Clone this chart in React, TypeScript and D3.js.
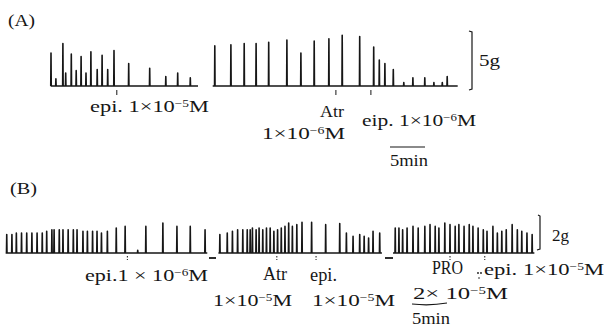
import React from 'react';
import * as d3 from 'd3';

// trace A (5 g scale): spike times in min, peak force in g
const aSeg1Time = [0, 0.7, 1.7, 2.1, 2.9, 3.6, 4.3, 5.0, 5.7, 6.6, 7.3, 8.1, 9.0, 11.1, 14.1, 16.4, 18.1, 19.9];
const aSeg1Force = [2.8, 0.6, 3.6, 1.1, 2.7, 1.3, 2.5, 1.1, 2.9, 1.4, 2.6, 1.4, 3.0, 1.9, 1.5, 0.8, 1.1, 0.7];
const aSeg2Time = [23.4, 25.7, 27.6, 29.3, 31.1, 33.7, 35.7, 37.6, 39.7, 41.6, 44.1, 46.1, 46.9, 47.7, 48.9, 50.4, 51.7, 53.4, 54.7, 55.9, 56.6];
const aSeg2Force = [3.4, 3.5, 3.6, 3.6, 3.7, 3.9, 2.8, 3.8, 4.0, 4.3, 4.2, 3.3, 2.2, 1.9, 1.4, 0.3, 0.7, 0.7, 0.3, 0.3, 0.8];
const aSegRanges = [[-0.05, 21.0], [23.1, 58.1]];
const aDrugTimes = [9.4, 40.7, 45.7];

// trace B (2 g scale)
const bSeg1Time = [0.1, 0.8, 1.4, 2.1, 2.8, 3.5, 4.2, 4.9, 5.5, 6.2, 6.5, 7.2, 7.7, 8.4, 9.1, 9.6, 10.4, 11.0, 11.7, 12.3, 12.9, 13.7, 14.9, 16.1, 17.8, 18.9, 21.2, 23.1, 24.9, 26.9];
const bSeg1Force = [1.05, 1.05, 1.14, 1.14, 1.14, 1.14, 1.14, 1.14, 1.24, 1.33, 1.33, 1.33, 1.33, 1.33, 1.33, 1.33, 1.24, 1.24, 1.24, 1.24, 1.14, 1.24, 1.43, 1.52, 0.15, 1.52, 1.71, 1.52, 1.52, 1.33];
const bSeg2Time = [28.9, 29.9, 30.6, 31.3, 32.0, 32.6, 33.0, 33.3, 33.8, 34.2, 34.7, 35.2, 35.7, 36.2, 36.7, 37.2, 37.7, 38.2, 38.7, 39.3, 40.0, 41.3, 43.2, 45.1, 46.0, 46.9, 47.8, 48.4, 49.0, 49.6, 50.5];
const bSeg2Force = [1.05, 1.14, 1.24, 1.33, 1.33, 1.33, 1.33, 1.43, 1.33, 1.43, 1.33, 1.43, 1.43, 1.24, 1.33, 1.43, 1.52, 1.71, 1.52, 1.62, 1.75, 1.75, 1.62, 1.68, 1.14, 0.95, 1.05, 0.95, 0.86, 1.24, 1.14];
const bSeg3Time = [52.6, 53.1, 53.6, 54.2, 55.0, 55.7, 56.6, 57.3, 58.0, 58.5, 59.3, 60.0, 60.7, 61.2, 61.9, 62.6, 63.1, 63.8, 64.5, 65.0, 65.8, 66.4, 67.0, 67.6, 68.4, 69.1, 69.7, 70.4, 71.1];
const bSeg3Force = [1.43, 1.43, 1.33, 1.43, 1.52, 1.43, 1.52, 1.62, 1.52, 1.43, 1.71, 1.62, 1.52, 1.62, 1.52, 1.62, 1.52, 1.43, 1.33, 1.24, 1.52, 1.14, 1.24, 1.33, 1.62, 1.33, 1.24, 1.14, 1.05];
const bSegRanges = [[-0.05, 27.2], [28.7, 50.8], [52.3, 71.4]];
const bDrugTimes = [16.4, 36.6, 41.9, 60.0, 64.7];

const FONT = '"Liberation Serif", serif';
const INK = '#161616';

const xA = d3.scaleLinear().domain([0, 60]).range([51, 471]);
const yA = d3.scaleLinear().domain([0, 5]).range([86, 27]);
const xB = d3.scaleLinear().domain([0, 60]).range([6, 450]);
const yB = d3.scaleLinear().domain([0, 2]).range([253, 218]);

type Pt = [number, number];

// baseline with a sharp twitch at every spike time
function tracePath(range: number[], times: number[], force: number[], x: any, y: any) {
  const w = 0.035;
  const pts: Pt[] = [[range[0], 0]];
  times.forEach((t, i) => {
    pts.push([t - w, 0], [t, force[i]], [t + w, 0]);
  });
  pts.push([range[1], 0]);
  return d3.line<Pt>().x((d) => x(d[0])).y((d) => y(d[1]))(pts) || '';
}

const Conc = ({ x, y, w, pre, exp, size = 17 }: any) => (
  <text x={x} y={y} fontSize={size} fontFamily={FONT} fill={INK}
    textLength={w} lengthAdjust="spacingAndGlyphs">
    {pre}
    <tspan dy={-5} fontSize={size * 0.6}>{exp}</tspan>
    <tspan dy={5}>M</tspan>
  </text>
);

const Label = ({ x, y, w, children, size = 18 }: any) => (
  <text x={x} y={y} fontSize={size} fontFamily={FONT} fill={INK}
    textLength={w} lengthAdjust="spacingAndGlyphs">{children}</text>
);

export default function App() {
  const aPaths = [
    tracePath(aSegRanges[0], aSeg1Time, aSeg1Force, xA, yA),
    tracePath(aSegRanges[1], aSeg2Time, aSeg2Force, xA, yA),
  ];
  const bPaths = [
    tracePath(bSegRanges[0], bSeg1Time, bSeg1Force, xB, yB),
    tracePath(bSegRanges[1], bSeg2Time, bSeg2Force, xB, yB),
    tracePath(bSegRanges[2], bSeg3Time, bSeg3Force, xB, yB),
  ];

  return (
    <svg width={615} height={331} viewBox="0 0 615 331"
      style={{ position: 'absolute', left: 0, top: 0, background: '#fff' }}>
      {/* panel A */}
      <Label x={8} y={26} w={27} size={17}>(A)</Label>
      {aPaths.map((d, i) => (
        <path key={i} d={d} fill="none" stroke={INK} strokeWidth={1.6} strokeLinejoin="round" />
      ))}
      {aDrugTimes.map((t, i) => (
        <line key={i} x1={xA(t)} x2={xA(t)} y1={yA(0) + 4} y2={yA(0) + 9}
          stroke={INK} strokeWidth={1} />
      ))}
      <path d="M469,31 L472,32 L472,89 L469,90" fill="none" stroke={INK} strokeWidth={1.2} />
      <Label x={479} y={66} w={21} size={17}>5g</Label>
      <Conc x={90} y={112} w={119} pre="epi. 1×10" exp="−5" />
      <Label x={320} y={117} w={24} size={17}>Atr</Label>
      <Conc x={262} y={139} w={83} pre="1×10" exp="−6" />
      <Conc x={362} y={126} w={114} pre="eip. 1×10" exp="−6" />
      <line x1={390} x2={390 + xA(5) - xA(0)} y1={147} y2={147} stroke={INK} strokeWidth={1.2} />
      <Label x={390} y={166} w={38} size={17}>5min</Label>

      {/* panel B */}
      <Label x={10} y={194} w={27} size={17}>(B)</Label>
      {bPaths.map((d, i) => (
        <path key={i} d={d} fill="none" stroke={INK} strokeWidth={1.6} strokeLinejoin="round" />
      ))}
      {bDrugTimes.map((t, i) => (
        <line key={i} x1={xB(t)} x2={xB(t)} y1={yB(0) + 3} y2={yB(0) + 7}
          stroke={INK} strokeWidth={1} strokeDasharray="1.5 1.5" />
      ))}
      <line x1={209} x2={216} y1={258} y2={258} stroke={INK} strokeWidth={1.8} />
      <line x1={385} x2={393} y1={258} y2={258} stroke={INK} strokeWidth={1.8} />
      <path d="M538,215 L540,216 L540,249 L537,250" fill="none" stroke={INK} strokeWidth={1.2} />
      <Label x={552} y={241} w={17} size={17}>2g</Label>
      <Conc x={85} y={281} w={123} pre="epi.1 × 10" exp="−6" />
      <Label x={263} y={280} w={24}>Atr</Label>
      <Label x={310} y={281} w={27}>epi.</Label>
      <Conc x={213} y={306} w={79} pre="1×10" exp="−5" />
      <Conc x={312} y={306} w={83} pre="1×10" exp="−5" />
      <Label x={432} y={274} w={31}>PRO</Label>
      <circle cx={478} cy={273} r={0.9} fill={INK} />
      <circle cx={481} cy={273} r={0.9} fill={INK} />
      <circle cx={479} cy={278} r={0.8} fill={INK} />
      <Conc x={484} y={275} w={120} pre="epi. 1×10" exp="−5" />
      <Conc x={413} y={299} w={95} pre="2× 10" exp="−5" />
      <path d="M412,304 Q430,306 447,303" fill="none" stroke={INK} strokeWidth={1.2} />
      <Label x={412} y={324} w={38} size={17}>5min</Label>
    </svg>
  );
}
